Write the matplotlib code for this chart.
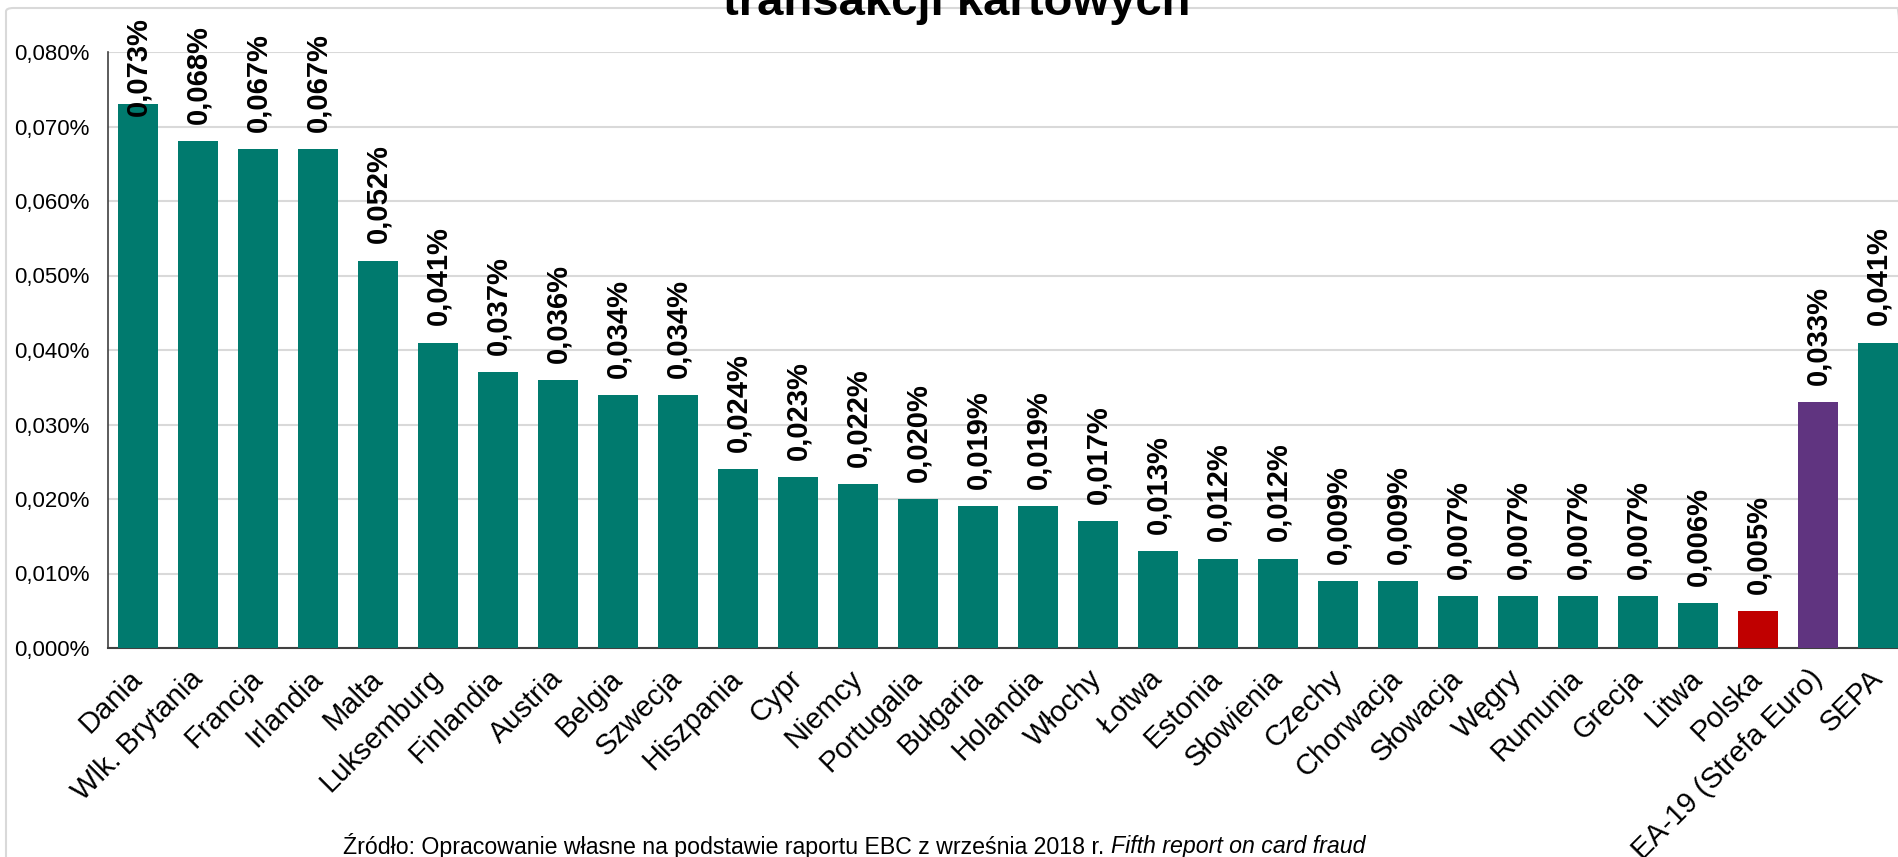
import matplotlib
matplotlib.use("Agg")
import matplotlib.pyplot as plt
from matplotlib.patches import FancyBboxPatch

plt.rcParams['font.family'] = ['Liberation Sans', 'DejaVu Sans']

# dane: odsetek wartości transakcji kartowych (oszustwa), EBC 2018
kraje = ['Dania', 'Wlk. Brytania', 'Francja', 'Irlandia', 'Malta', 'Luksemburg',
         'Finlandia', 'Austria', 'Belgia', 'Szwecja', 'Hiszpania', 'Cypr', 'Niemcy',
         'Portugalia', 'Bułgaria', 'Holandia', 'Włochy', 'Łotwa', 'Estonia',
         'Słowienia', 'Czechy', 'Chorwacja', 'Słowacja', 'Węgry', 'Rumunia',
         'Grecja', 'Litwa', 'Polska', 'EA-19 (Strefa Euro)', 'SEPA']
wartosci = [0.073, 0.068, 0.067, 0.067, 0.052, 0.041, 0.037, 0.036, 0.034, 0.034,
            0.024, 0.023, 0.022, 0.020, 0.019, 0.019, 0.017, 0.013, 0.012, 0.012,
            0.009, 0.009, 0.007, 0.007, 0.007, 0.007, 0.006, 0.005, 0.033, 0.041]
y_ticks = [0.000, 0.010, 0.020, 0.030, 0.040, 0.050, 0.060, 0.070, 0.080]

TEAL = '#007A6E'
kolory = {'Polska': '#C00000', 'EA-19 (Strefa Euro)': '#603480'}
bar_colors = [kolory.get(k, TEAL) for k in kraje]

fig = plt.figure(figsize=(18.99, 8.57), dpi=100)

# ramka wykresu
fig.patches.append(FancyBboxPatch((6 / 1899, -0.05), 1.0, 1.05 - 8 / 857,
                                  boxstyle='round,pad=0,rounding_size=0.004',
                                  transform=fig.transFigure, fill=False,
                                  edgecolor='#D9D9D9', linewidth=1.5))

ax = fig.add_axes([108 / 1899, 1 - 648 / 857, 1800 / 1899, 596 / 857])
x = range(len(kraje))
ax.bar(x, wartosci, width=0.68, color=bar_colors, zorder=3)

ax.set_xlim(-0.5, len(kraje) - 0.5)
ax.set_ylim(0, 0.080)
ax.set_yticks(y_ticks)
ax.set_yticklabels([('%.3f%%' % v).replace('.', ',') for v in y_ticks], fontsize=16)
ax.tick_params(axis='y', length=0, pad=13)
ax.set_xticks(list(x))
ax.set_xticklabels(kraje, rotation=45, ha='right', va='center',
                   rotation_mode='anchor', fontsize=21)
ax.tick_params(axis='x', length=0, pad=19)
ax.grid(axis='y', color='#D9D9D9', linewidth=1.5, zorder=0)
ax.spines['top'].set_visible(False)
ax.spines['right'].set_visible(False)
ax.spines['left'].set_color('#404040')
ax.spines['bottom'].set_color('#404040')
ax.spines['left'].set_linewidth(1.2)
ax.spines['bottom'].set_linewidth(1.5)

# etykiety danych (pionowe, pogrubione)
gap = 0.0023
top_clamp = 0.0714
for i, v in enumerate(wartosci):
    ax.text(i, min(v + gap, top_clamp), ('%.3f%%' % v).replace('.', ','),
            rotation=90, ha='center', va='bottom', fontsize=21,
            fontweight='bold', clip_on=False, zorder=4)

fig.text(957 / 1899, 1 - 15 / 857, 'transakcji kartowych', ha='center',
         va='baseline', fontsize=34, fontweight='bold')

src = fig.text(343 / 1899, 1 - 846 / 857,
               'Źródło: Opracowanie własne na podstawie raportu EBC z września 2018 r. ',
               ha='left', va='center', fontsize=16.7)
ax.annotate('Fifth report on card fraud', xy=(1, 0.5), xycoords=src,
            ha='left', va='center', fontsize=16.7, style='italic',
            annotation_clip=False)

fig.savefig('out.png', dpi=100)
